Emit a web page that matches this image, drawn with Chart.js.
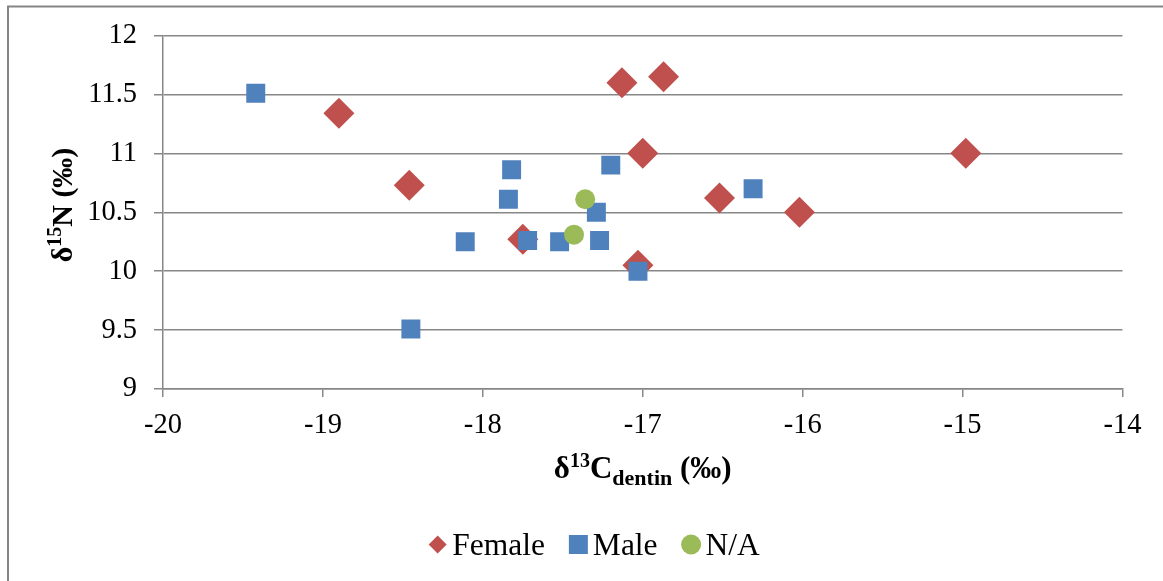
<!DOCTYPE html>
<html><head><meta charset="utf-8">
<script src="https://cdn.jsdelivr.net/npm/chart.js@4/dist/chart.umd.min.js"></script>
<style>html,body{margin:0;padding:0;background:#fff}</style>
</head><body>
<canvas id="c" width="1163" height="581" style="display:block;width:1163px;height:581px"></canvas>
<script>
// ---- data ----
const seriesNames = ['Female', 'Male', 'N/A'];
const femaleC = [-18.90, -18.46, -17.75, -17.13, -16.87, -17.00, -17.03, -16.52, -16.02, -14.98];
const femaleN = [11.34, 10.73, 10.27, 11.60, 11.65, 11.00, 10.05, 10.62, 10.50, 11.00];
const maleC = [-19.42, -18.45, -18.11, -17.82, -17.84, -17.72, -17.52, -17.29, -17.27, -17.20, -17.03, -16.31];
const maleN = [11.51, 9.51, 10.25, 10.86, 10.61, 10.26, 10.25, 10.50, 10.26, 10.90, 10.00, 10.70];
const naC = [-17.36, -17.43];
const naN = [10.61, 10.31];
const xTickValues = [-20, -19, -18, -17, -16, -15, -14];
const yTickValues = [9, 9.5, 10, 10.5, 11, 11.5, 12];
const xTickLabels = ['-20', '-19', '-18', '-17', '-16', '-15', '-14'];
const yTickLabels = ['9', '9.5', '10', '10.5', '11', '11.5', '12'];

const colors = ['#C0504D', '#4F81BD', '#9BBB59'];
const gridColor = '#878787';
const serif = '"Liberation Serif", "Times New Roman", serif';

function pts(xs, ys) { return xs.map((x, i) => ({ x: x, y: ys[i] })); }

// rich text helper: parts [{t, size, bold, dy}]
function richWidth(ctx, parts) {
  let w = 0;
  parts.forEach(p => { ctx.font = (p.bold ? 'bold ' : '') + p.size + 'px ' + serif; w += ctx.measureText(p.t).width; });
  return w;
}
function drawRich(ctx, parts, cx, baseY) {
  const w = richWidth(ctx, parts);
  let x = cx - w / 2;
  ctx.textAlign = 'left';
  ctx.textBaseline = 'alphabetic';
  parts.forEach(p => {
    ctx.font = (p.bold ? 'bold ' : '') + p.size + 'px ' + serif;
    ctx.fillText(p.t, x, baseY + (p.dy || 0));
    x += ctx.measureText(p.t).width;
  });
}

const decorPlugin = {
  id: 'decor',
  beforeDraw(chart) {
    const ctx = chart.ctx;
    ctx.save();
    ctx.fillStyle = '#fff';
    ctx.fillRect(0, 0, chart.width, chart.height);
    ctx.strokeStyle = '#858585';
    ctx.lineWidth = 2;
    ctx.strokeRect(8, 6.5, 1170, 600);
    ctx.restore();
  },
  afterDraw(chart) {
    const ctx = chart.ctx;
    const area = chart.chartArea;
    ctx.save();
    ctx.fillStyle = '#000';
    // x axis title: δ13C(dentin) (‰)
    drawRich(ctx, [
      { t: 'δ', size: 31, bold: true },
      { t: '13', size: 20, bold: true, dy: -11 },
      { t: 'C', size: 31, bold: true },
      { t: 'dentin', size: 22, bold: true, dy: 7 },
      { t: ' (‰)', size: 31, bold: true }
    ], (area.left + area.right) / 2, 478);
    // y axis title: δ15N (‰)
    ctx.save();
    ctx.translate(72, 205);
    ctx.rotate(-Math.PI / 2);
    drawRich(ctx, [
      { t: 'δ', size: 30, bold: true },
      { t: '15', size: 20, bold: true, dy: -11 },
      { t: 'N (‰)', size: 30, bold: true }
    ], 0, 0);
    ctx.restore();

    // legend
    const ds = chart.data.datasets;
    const fs = 31.5;
    ctx.font = fs + 'px ' + serif;
    const markerW = 19, gapMT = 5, gapItem = 24;
    let total = 0;
    ds.forEach((d, i) => {
      total += markerW + gapMT + ctx.measureText(d.label).width + (i < ds.length - 1 ? gapItem : 0);
    });
    let x = 594 - total / 2;
    const cy = 544.5;
    ds.forEach((d) => {
      const mx = x + markerW / 2;
      ctx.fillStyle = d.backgroundColor;
      ctx.beginPath();
      if (d.pointStyle === 'rectRot') {
        ctx.moveTo(mx - 9, cy); ctx.lineTo(mx, cy - 9); ctx.lineTo(mx + 9, cy); ctx.lineTo(mx, cy + 9); ctx.closePath();
      } else if (d.pointStyle === 'rect') {
        ctx.rect(mx - 9.5, cy - 9.5, 19, 19);
      } else {
        ctx.arc(mx, cy, 10, 0, Math.PI * 2);
      }
      ctx.fill();
      x += markerW + gapMT;
      ctx.fillStyle = '#000';
      ctx.font = fs + 'px ' + serif;
      ctx.textAlign = 'left';
      ctx.textBaseline = 'alphabetic';
      ctx.fillText(d.label, x, 555);
      x += ctx.measureText(d.label).width + gapItem;
    });
    ctx.restore();
  }
};

new Chart(document.getElementById('c'), {
  type: 'scatter',
  data: {
    datasets: [
      { label: seriesNames[0], data: pts(femaleC, femaleN), pointStyle: 'rectRot', radius: 15.5, hoverRadius: 15.5,
        backgroundColor: colors[0], borderColor: colors[0], borderWidth: 0, order: 3 },
      { label: seriesNames[1], data: pts(maleC, maleN), pointStyle: 'rect', radius: 13.4, hoverRadius: 13.4,
        backgroundColor: colors[1], borderColor: colors[1], borderWidth: 0, order: 2 },
      { label: seriesNames[2], data: pts(naC, naN), pointStyle: 'circle', radius: 10, hoverRadius: 10,
        backgroundColor: colors[2], borderColor: colors[2], borderWidth: 0, order: 1 }
    ]
  },
  options: {
    responsive: false,
    animation: false,
    events: [],
    layout: { padding: { top: 35.5, right: 40.5, left: 0, bottom: 0 } },
    plugins: { legend: { display: false }, tooltip: { enabled: false } },
    scales: {
      x: {
        type: 'linear', min: -20, max: -14,
        afterFit: s => { s.height = 192; },
        afterBuildTicks: s => { s.ticks = xTickValues.map(v => ({ value: v })); },
        ticks: { color: '#000', font: { family: serif, size: 28.5 }, padding: 11, maxRotation: 0,
          callback: (v) => { const i = xTickValues.indexOf(v); return i >= 0 ? xTickLabels[i] : String(v); } },
        grid: { display: true, drawOnChartArea: false, drawTicks: true, tickLength: 8, color: gridColor, lineWidth: 1.5 },
        border: { display: true, color: gridColor, width: 1.5 },
        title: { display: false }
      },
      y: {
        type: 'linear', min: 9, max: 12,
        afterFit: s => { s.width = 163; },
        afterBuildTicks: s => { s.ticks = yTickValues.map(v => ({ value: v })); },
        ticks: { color: '#000', font: { family: serif, size: 28.5 }, padding: 17,
          callback: (v) => { const i = yTickValues.indexOf(v); return i >= 0 ? yTickLabels[i] : String(v); } },
        grid: { display: true, drawOnChartArea: true, drawTicks: true, tickLength: 9, color: gridColor, lineWidth: 1.5 },
        border: { display: true, color: gridColor, width: 1.5 },
        title: { display: false }
      }
    }
  },
  plugins: [decorPlugin]
});
</script>
</body></html>
